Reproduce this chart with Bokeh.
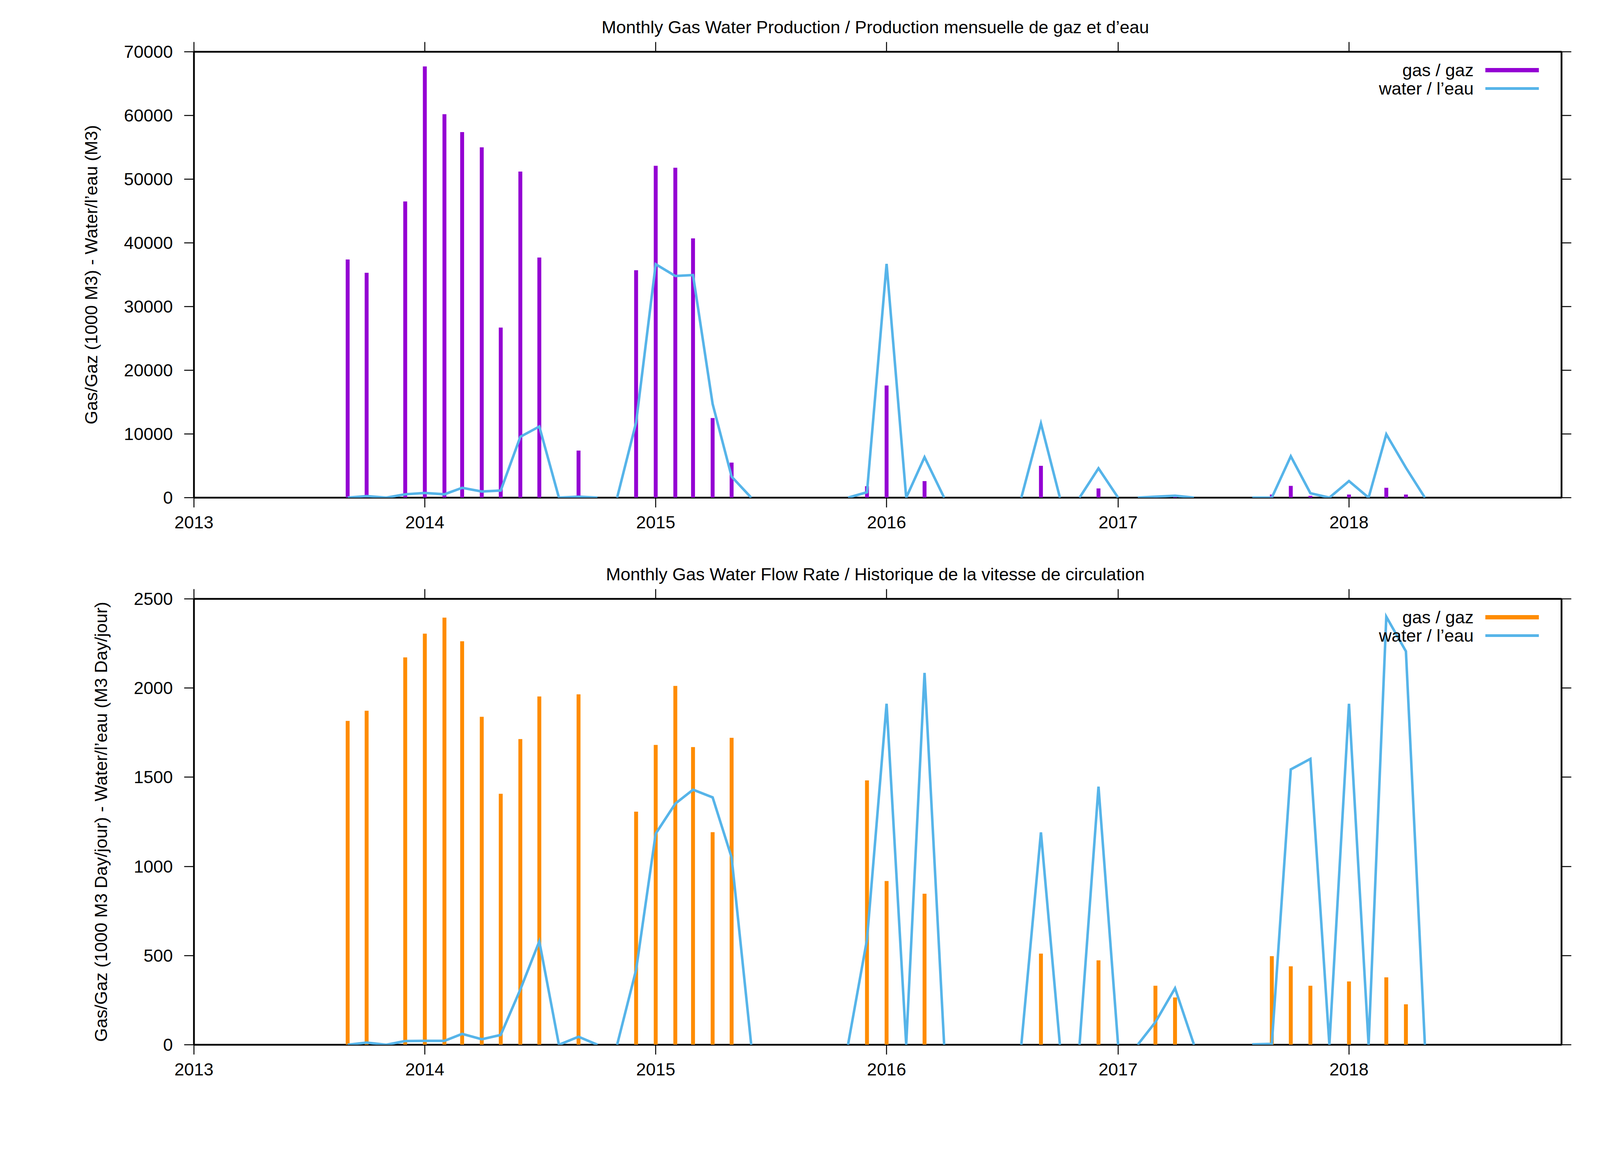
import numpy as np
import pandas as pd
from bokeh.plotting import figure
from bokeh.layouts import column
from bokeh.models import (Range1d, DatetimeAxis, LinearAxis, FixedTicker, DatetimeTickFormatter,
                          SingleIntervalTicker, BasicTickFormatter, Label, BoxAnnotation, ColumnDataSource)
from bokeh.embed import file_html
from bokeh.resources import INLINE

# ---------------- data ----------------
tick_years = [2013, 2014, 2015, 2016, 2017, 2018]
x_start = "2013-01-01"
x_end = "2018-12-03"

gas_months = ["2013-09", "2013-10", "2013-12", "2014-01", "2014-02", "2014-03", "2014-04", "2014-05",
              "2014-06", "2014-07", "2014-09", "2014-12", "2015-01", "2015-02", "2015-03", "2015-04",
              "2015-05", "2015-12", "2016-01", "2016-03", "2016-09", "2016-12", "2017-03", "2017-04",
              "2017-09", "2017-10", "2017-11", "2018-01", "2018-03", "2018-04"]
gas_volume = [37400, 35300, 46500, 67700, 60200, 57400, 55000, 26700,
              51200, 37700, 7400, 35700, 52100, 51800, 40700, 12500,
              5500, 1800, 17600, 2600, 5000, 1450, 120, 180,
              490, 1850, 290, 490, 1550, 490]
gas_rate = [1816, 1873, 2172, 2305, 2395, 2262, 1839, 1407,
            1714, 1953, 1965, 1307, 1681, 2012, 1669, 1192,
            1721, 1482, 918, 847, 511, 473, 331, 265,
            497, 440, 331, 355, 378, 227]

water_months = ["2013-09", "2013-10", "2013-11", "2013-12", "2014-01", "2014-02", "2014-03", "2014-04",
                "2014-05", "2014-06", "2014-07", "2014-08", "2014-09", "2014-10",
                "2014-11", "2014-12", "2015-01", "2015-02", "2015-03", "2015-04", "2015-05", "2015-06",
                "2015-11", "2015-12", "2016-01", "2016-02", "2016-03", "2016-04",
                "2016-08", "2016-09", "2016-10",
                "2016-11", "2016-12", "2017-01",
                "2017-02", "2017-03", "2017-04", "2017-05",
                "2017-08", "2017-09", "2017-10", "2017-11", "2017-12", "2018-01", "2018-02", "2018-03",
                "2018-04", "2018-05"]
water_run = [1] * 14 + [2] * 8 + [3] * 6 + [4] * 3 + [5] * 3 + [6] * 4 + [7] * 10
water_volume = [0, 250, 0, 530, 730, 530, 1550, 970, 1120, 9560, 11170, 0, 150, 0,
                0, 11800, 36650, 34800, 34950, 14700, 3300, 0,
                0, 850, 36700, 0, 6350, 0,
                0, 11650, 0,
                0, 4600, 0,
                0, 150, 300, 0,
                0, 0, 6500, 700, 0, 2600, 0, 9950, 4700, 0]
water_rate = [0, 12, 0, 21, 22, 22, 61, 31, 55, 310, 580, 0, 45, 0,
              0, 420, 1184, 1352, 1430, 1387, 1050, 0,
              0, 590, 1912, 0, 2085, 0,
              0, 1191, 0,
              0, 1447, 0,
              0, 127, 317, 0,
              2, 5, 1544, 1603, 0, 1912, 0, 2400, 2206, 0]

titles = ["Monthly Gas  Water Production / Production mensuelle de gaz et d\u2019eau",
          "Monthly Gas  Water Flow Rate / Historique de la vitesse de circulation"]
ylabels = ["Gas/Gaz (1000 M3) - Water/l\u2019eau (M3)",
           "Gas/Gaz (1000 M3 Day/jour) - Water/l\u2019eau (M3 Day/jour)"]
legend_labels = ["gas / gaz", "water / l\u2019eau"]

# ---------------- style ----------------
FONT = "Liberation Sans"
FS = "45px"
C_GAS_VOL = "#9400D3"
C_GAS_RATE = "#FF8C00"
C_WATER = "#56B4E9"

def to_dt(months):
    return pd.to_datetime([m + "-01" for m in months])

tick_ms = [pd.Timestamp(f"{y}-01-01").value / 1e6 for y in tick_years]
fmt = DatetimeTickFormatter(years="%Y", months="%Y", days="%Y", hours="%Y", minutes="%Y",
                            seconds="%Y", milliseconds="%Y", microseconds="%Y")

W, H = 4098, 1400
BL, BR, BT, BB = 496, 101, 132, 127
FW, FH = W - BL - BR, H - BT - BB


def style_axis(ax, labels=True):
    ax.axis_line_color = None
    ax.major_tick_out = 25
    ax.major_tick_in = 0
    ax.minor_tick_out = 0
    ax.minor_tick_in = 0
    ax.major_tick_line_width = 2.5
    ax.major_tick_line_color = "black"
    ax.major_label_text_font = FONT
    if labels:
        ax.major_label_text_font_size = FS
        ax.major_label_text_color = "black"
    else:
        # mirror ticks only: labels are not painted at all
        ax.major_label_text_font_size = "2px"
        ax.major_label_text_color = None
        ax.major_label_standoff = 0


def make_fig(title, ylabel, ymax, yint, gas_vals, gas_color, water_vals):
    p = figure(width=W, height=H, x_axis_type=None, y_axis_type=None,
               output_backend="svg", toolbar_location=None,
               x_range=Range1d(pd.Timestamp(x_start), pd.Timestamp(x_end)),
               y_range=Range1d(0, ymax),
               min_border_left=BL, min_border_right=BR, min_border_top=BT, min_border_bottom=BB)
    p.background_fill_color = "white"
    p.border_fill_color = "white"
    p.outline_line_color = "black"
    p.outline_line_width = 4.5

    yt = SingleIntervalTicker(interval=yint, num_minor_ticks=0)
    xt = FixedTicker(ticks=tick_ms, minor_ticks=[])

    xb = DatetimeAxis(ticker=xt, formatter=fmt)
    style_axis(xb)
    xb.major_label_standoff = 22
    p.add_layout(xb, "below")
    xa = DatetimeAxis(ticker=xt, formatter=fmt)
    style_axis(xa, labels=False)
    p.add_layout(xa, "above")

    yl = LinearAxis(ticker=yt, formatter=BasicTickFormatter(use_scientific=False))
    style_axis(yl)
    yl.major_label_standoff = 29
    yl.axis_label = ylabel
    yl.axis_label_text_font = FONT
    yl.axis_label_text_font_size = FS
    yl.axis_label_text_font_style = "normal"
    yl.axis_label_text_color = "black"
    yl.axis_label_standoff = 55
    p.add_layout(yl, "left")
    yr = LinearAxis(ticker=yt)
    style_axis(yr, labels=False)
    p.add_layout(yr, "right")

    p.ygrid.ticker = yt
    p.ygrid.grid_line_color = "black"
    p.ygrid.grid_line_width = 1.5
    p.ygrid.grid_line_dash = "5 5"
    p.xgrid.grid_line_color = None

    p.title.text = title
    p.title.align = "center"
    p.title.text_font = FONT
    p.title.text_font_size = FS
    p.title.text_font_style = "normal"
    p.title.text_color = "black"
    p.title.standoff = 25

    gsrc = ColumnDataSource(dict(x=to_dt(gas_months), y0=[0] * len(gas_vals), y1=gas_vals))
    p.segment(x0="x", y0="y0", x1="x", y1="y1", source=gsrc,
              line_width=10, line_color=gas_color, line_cap="butt")

    wd = to_dt(water_months)
    xs, ys = [], []
    for r in sorted(set(water_run)):
        idx = [i for i, v in enumerate(water_run) if v == r]
        xs.append([wd[i] for i in idx])
        ys.append([water_vals[i] for i in idx])
    p.multi_line(xs=xs, ys=ys, line_width=6.5, line_color=C_WATER, line_join="miter")

    # key (top right, text then sample line, as in the reference)
    rows = [47, 94]
    thick = [11, 7]
    cols = [gas_color, C_WATER]
    for lab, dy, th, c in zip(legend_labels, rows, thick, cols):
        p.add_layout(Label(x=3276, y=FH - dy, x_units="screen", y_units="screen", text=lab,
                           text_align="right", text_baseline="middle", text_font=FONT,
                           text_font_size=FS, text_color="black"))
        p.add_layout(BoxAnnotation(left=3306, right=3443, top=FH - dy + th / 2, bottom=FH - dy - th / 2,
                                   left_units="screen", right_units="screen",
                                   top_units="screen", bottom_units="screen",
                                   fill_color=c, fill_alpha=1.0, line_color=None, line_alpha=0))
    return p


p1 = make_fig(titles[0], ylabels[0], 70000, 10000, gas_volume, C_GAS_VOL, water_volume)
p2 = make_fig(titles[1], ylabels[1], 2500, 500, gas_rate, C_GAS_RATE, water_rate)

layout = column(p1, p2, spacing=0)
open("out.html", "w").write(file_html(layout, INLINE))
